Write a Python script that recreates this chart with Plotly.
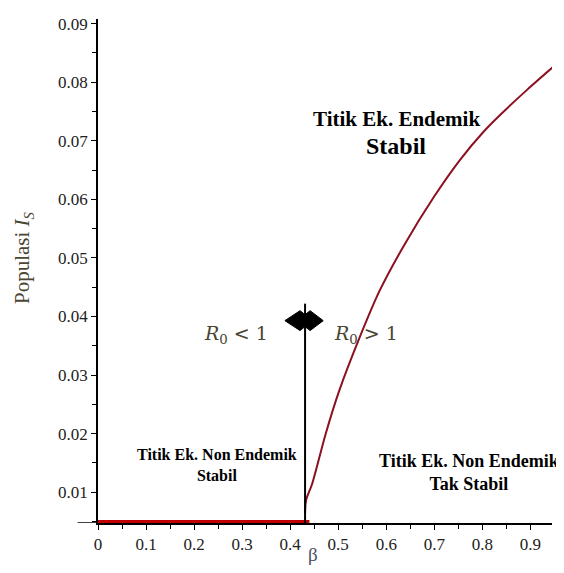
import plotly.graph_objects as go

# ---- data ----
beta_curve = [0.431, 0.433, 0.446, 0.474, 0.502, 0.544, 0.585, 0.636, 0.699,
              0.754, 0.803, 0.838, 0.893, 0.950]
I_curve = [0.0064, 0.0086, 0.0115, 0.0200, 0.0273, 0.0363, 0.0442, 0.0520,
           0.0604, 0.0668, 0.0716, 0.0745, 0.0787, 0.0828]
beta_threshold = 0.431
beta_nonendemic = [0.0, 0.44]
x_ticks = [0, 0.1, 0.2, 0.3, 0.4, 0.5, 0.6, 0.7, 0.8, 0.9]
x_ticktext = ["0", "0.1", "0.2", "0.3", "0.4", "0.5", "0.6", "0.7", "0.8", "0.9"]
y_ticks = [0.01, 0.02, 0.03, 0.04, 0.05, 0.06, 0.07, 0.08, 0.09]
y_ticktext = ["0.01", "0.02", "0.03", "0.04", "0.05", "0.06", "0.07", "0.08", "0.09"]

X_RANGE = [0, 0.945]
Y_RANGE = [0.00475, 0.0908]
Y_MIN = Y_RANGE[0]
LINE_TOP = 0.0422
ARROW_Y = 0.0393

SERIF = "Liberation Serif, Times New Roman, serif"
CAMBRIA = "DejaVu Serif, serif"
OLIVE = "#4a4633"

fig = go.Figure()

# shadow under non-endemic bar
fig.add_trace(go.Scatter(x=beta_nonendemic, y=[Y_MIN - 0.0003, Y_MIN - 0.0003],
                         mode="lines", line=dict(color="rgba(0,0,0,0.15)", width=9),
                         cliponaxis=False, hoverinfo="skip", showlegend=False))
# thick red non-endemic equilibrium
fig.add_trace(go.Scatter(x=beta_nonendemic, y=[Y_MIN, Y_MIN], mode="lines",
                         line=dict(color="#c00000", width=6),
                         cliponaxis=False, showlegend=False))
# endemic equilibrium curve
fig.add_trace(go.Scatter(x=beta_curve, y=I_curve, mode="lines",
                         line=dict(color="#8b1020", width=2, shape="spline", smoothing=0.8),
                         showlegend=False))

shapes = []
# vertical threshold line
shapes.append(dict(type="line", xref="x", yref="y", x0=beta_threshold, x1=beta_threshold,
                   y0=Y_MIN, y1=LINE_TOP, line=dict(color="black", width=2)))
# double-headed arrow
bx, by = beta_threshold, ARROW_Y
dx, dy = 0.0021, 0.00017  # per-pixel units
pts = [(-20, 0), (-5, 10), (0, 6), (5, 10), (18, 0), (5, -10), (0, -6), (-5, -10)]
path = "M " + " L ".join(f"{bx + px*dx:.5f},{by + py*dy:.6f}" for px, py in pts) + " Z"
shapes.append(dict(type="path", xref="x", yref="y", path=path,
                   fillcolor="black", line=dict(color="black", width=1)))
# x-axis line extending left of y axis
shapes.append(dict(type="line", xref="paper", yref="y", x0=-0.045, x1=0, y0=Y_MIN, y1=Y_MIN,
                   line=dict(color="black", width=1.5)))

annotations = [
    dict(x=0.621, y=0.0738, text="<b>Titik Ek. Endemik</b>", showarrow=False,
         font=dict(family=SERIF, size=21, color="black")),
    dict(x=0.621, y=0.0692, text="<b>Stabil</b>", showarrow=False,
         font=dict(family=SERIF, size=24, color="black")),
    dict(x=0.248, y=0.0146, text="<b>Titik Ek. Non Endemik<br>Stabil</b>", showarrow=False,
         font=dict(family=SERIF, size=16, color="black")),
    dict(x=0.772, y=0.0134, text="<b>Titik Ek. Non Endemik<br>Tak Stabil</b>", showarrow=False,
         font=dict(family=SERIF, size=18, color="black")),
    dict(x=0.288, y=0.0370, text="<i>R</i><sub>0</sub> &lt; 1", showarrow=False,
         font=dict(family=CAMBRIA, size=19, color=OLIVE)),
    dict(x=0.557, y=0.0370, text="<i>R</i><sub>0</sub> &gt; 1", showarrow=False,
         font=dict(family=CAMBRIA, size=19, color=OLIVE)),
    dict(xref="paper", yref="paper", x=-0.165, y=0.526, xanchor="center", yanchor="middle",
         textangle=-90, text="Populasi <i>I</i><sub><i>S</i></sub>", showarrow=False,
         font=dict(family=SERIF, size=21, color=OLIVE)),
    dict(xref="paper", yref="paper", x=0.474, y=-0.063, xanchor="center", yanchor="middle",
         text="β", showarrow=False,
         font=dict(family=SERIF, size=19, color="#4a5060")),
]

fig.update_layout(
    width=564, height=573,
    margin=dict(l=90, r=20, t=7, b=58),
    paper_bgcolor="white", plot_bgcolor="white",
    shapes=shapes, annotations=annotations,
    xaxis=dict(range=X_RANGE, tickvals=x_ticks, ticktext=x_ticktext, layer="below traces",
               showgrid=False, zeroline=False, showline=True, linecolor="black", linewidth=1.5,
               ticks="outside", ticklen=5, tickcolor="black", tickwidth=1,
               minor=dict(dtick=0.05, tick0=0, ticks="outside", ticklen=4, tickcolor="black"),
               tickfont=dict(family=SERIF, size=17, color="#222")),
    yaxis=dict(range=Y_RANGE, tickvals=y_ticks, ticktext=y_ticktext, layer="below traces",
               showgrid=False, zeroline=False, showline=True, linecolor="black", linewidth=1.5,
               ticks="outside", ticklen=5, tickcolor="black", tickwidth=1,
               minor=dict(dtick=0.005, tick0=0, ticks="outside", ticklen=4, tickcolor="black"),
               tickfont=dict(family=SERIF, size=17, color="#222")),
)

fig.write_html("out.html")
